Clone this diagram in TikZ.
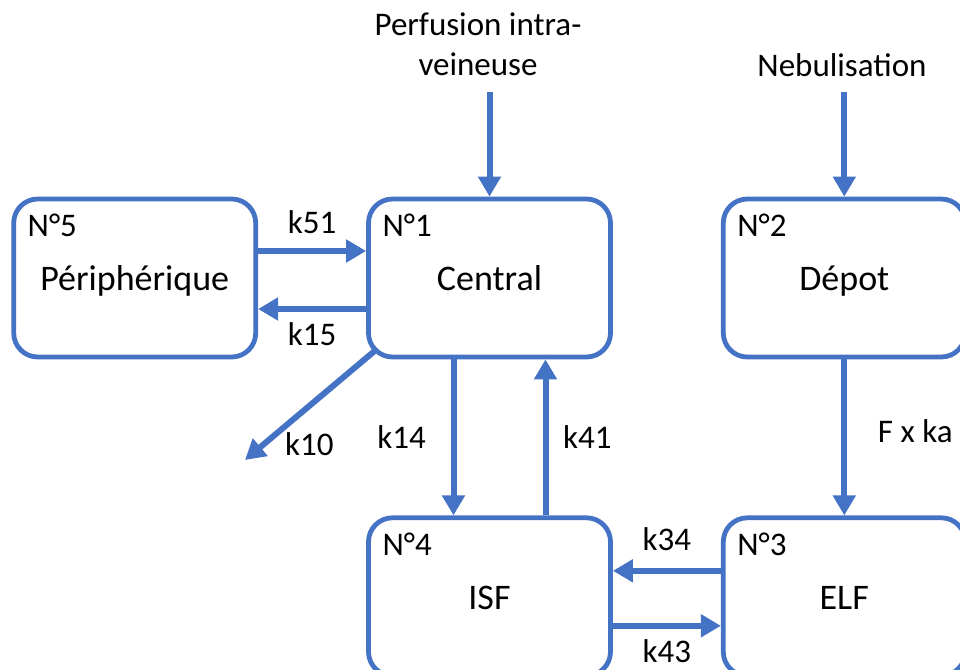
\documentclass[tikz,border=0pt]{standalone}
\usepackage{fontspec}
\setmainfont{Carlito}
\usepackage{xcolor}
\usepackage{tikz}
\usetikzlibrary{positioning,arrows.meta}
\definecolor{pkblue}{HTML}{4472C4}

\begin{document}
\begin{tikzpicture}[->,>={Triangle[length=10pt,width=11pt]},x=0.5pt,y=-0.5pt,node distance=78pt and 54pt,
	comp/.style={draw=pkblue,line width=2.4pt,rounded corners=12pt,minimum width=121pt,minimum height=79pt,text height=16pt,text depth=3.5pt,font=\fontsize{18}{21}\selectfont},
	num/.style={anchor=north west,inner sep=0pt,font=\fontsize{16.5}{19}\selectfont},
	flow/.style={draw=pkblue,line width=3pt},
	rate/.style={font=\fontsize{16.5}{20}\selectfont}]
	\useasboundingbox (0,0) rectangle (960,670);
	\clip (0,0) rectangle (960,670);

	\node[comp] (central) at (489.5,278) {Central};
	\node[comp] (periph) [left=of central] {Périphérique};
	\node[comp] (depot) [right=of central] {Dépot};
	\node[comp] (isf) [below=of central] {ISF};
	\node[comp] (elf) [below=of depot] {ELF};

	\node[num] (n1) at ([shift={(8pt,-8.5pt)}]central.north west) {N°1};
	\node[num] (n2) at ([shift={(8pt,-8.5pt)}]depot.north west) {N°2};
	\node[num] (n3) at ([shift={(8pt,-8.5pt)}]elf.north west) {N°3};
	\node[num] (n4) at ([shift={(8pt,-8.5pt)}]isf.north west) {N°4};
	\node[num] (n5) at ([shift={(8pt,-8.5pt)}]periph.north west) {N°5};

	\node[rate,align=center] (iv) at (478,44) {Perfusion intra-\\veineuse};
	\node[rate] (neb) at (842,65) {Nebulisation};
	\coordinate (ivstart) at (central.north |- 0,92);
	\coordinate (nebstart) at (depot.north |- 0,92);
	\coordinate (k10end) at (245,460);

	\draw[flow] (ivstart) -- (central.north);
	\draw[flow] (nebstart) -- (depot.north);
	\draw[flow] ([yshift=13.5pt]periph.east) -- node[rate,above=4pt] (l51) {k51} ([yshift=13.5pt]central.west);
	\draw[flow] ([yshift=-15.5pt]central.west) -- node[rate,below=2pt] (l15) {k15} ([yshift=-15.5pt]periph.east);
	\draw[flow] ([shift={(4pt,4pt)}]central.south west) -- node[rate,pos=0.85,right=5.5pt] (l10) {k10} (k10end);
	\draw[flow] ([xshift=-18pt]central.south) -- node[rate,left=9pt] (l14) {k14} ([xshift=-18pt]isf.north);
	\draw[flow] ([xshift=28pt]isf.north) -- node[rate,right=4pt] (l41) {k41} ([xshift=28pt]central.south);
	\draw[flow] (depot.south) -- node[rate,right=12pt,pos=0.46] (lka) {F x ka} (elf.north);
	\draw[flow] ([yshift=13pt]elf.west) -- node[rate,above=5pt] (l34) {k34} ([yshift=13pt]isf.east);
	\draw[flow] ([yshift=-14.5pt]isf.east) -- node[rate,below=2pt] (l43) {k43} ([yshift=-14.5pt]elf.west);
\end{tikzpicture}
\end{document}
